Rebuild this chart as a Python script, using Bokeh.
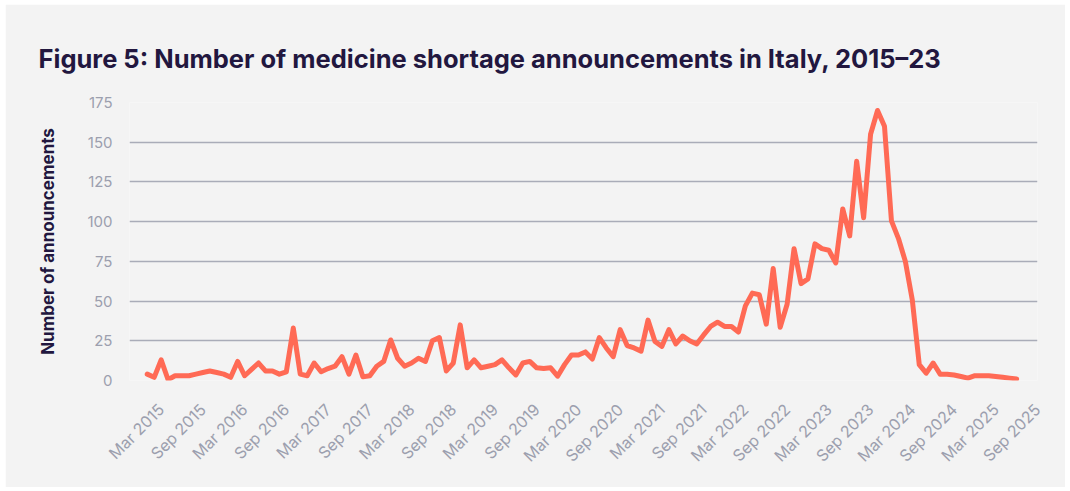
import math
from bokeh.plotting import figure
from bokeh.models import Range1d, FixedTicker, Title
from bokeh.embed import file_html
from bokeh.resources import INLINE

# ---- data (monthly announcements, starting Jan 2015) ----
start_year = 2015
start_month = 1
values = [
    4, 2, 13, 0.5, 3, 3, 3, 4, 5, 6,
    5, 4, 2, 12, 3, 7, 11, 6, 6, 4,
    5.5, 33, 4, 3, 11, 5.5, 7.5, 9, 15, 4,
    16, 2.3, 3, 9, 12, 25.5, 14, 9, 11, 14,
    12, 25, 27, 6, 11, 35, 8, 13, 8, 9,
    10, 13, 8, 3.5, 11, 12, 8, 7.5, 8, 2.7,
    10, 16, 16, 18, 13.5, 27, 20.5, 15, 32, 22,
    20.5, 18.5, 38, 24.6, 21.5, 32, 23, 28, 25, 23,
    28.7, 34, 36.7, 34, 34, 30.5, 47, 55, 54, 35.5,
    70.5, 33.5, 48, 83, 61, 64, 86, 83, 82, 74,
    108, 91, 138, 102.5, 155, 170, 160, 100.5, 89.5, 75,
    50.7, 10, 4.6, 11, 4, 4, 3.5, 2.5, 1.5, 3,
    3, 3, 2.5, 2, 1.5, 1,
]
x_labels = [
    "Mar 2015", "Sep 2015", "Mar 2016", "Sep 2016", "Mar 2017", "Sep 2017",
    "Mar 2018", "Sep 2018", "Mar 2019", "Sep 2019", "Mar 2020", "Sep 2020",
    "Mar 2021", "Sep 2021", "Mar 2022", "Sep 2022", "Mar 2023", "Sep 2023",
    "Mar 2024", "Sep 2024", "Mar 2025", "Sep 2025",
]
y_ticks = [0, 25, 50, 75, 100, 125, 150, 175]
title_text = "Figure 5: Number of medicine shortage announcements in Italy, 2015\u201323"
y_title = "Number of announcements"

MONTHS = ["Jan", "Feb", "Mar", "Apr", "May", "Jun", "Jul", "Aug", "Sep", "Oct", "Nov", "Dec"]


def month_index(label):
    m, y = label.split()
    return (int(y) - start_year) * 12 + MONTHS.index(m) - (start_month - 1)


x = list(range(len(values)))
tick_pos = [month_index(l) for l in x_labels]

BG = "#f3f3f3"
DARK = "#22173f"
GREY = "#9c9fae"
GRID = "#a9acb8"
LINE = "#ff6a55"
FONT = "Inter"

p = figure(
    width=1060, height=483, output_backend="svg", toolbar_location=None,
    margin=(4, 5, 4, 5),
    x_range=Range1d(-2.55, 128.0), y_range=Range1d(0, 175),
    min_border_left=124, min_border_right=28, min_border_top=98, min_border_bottom=107,
    background_fill_color=BG, border_fill_color=BG, outline_line_color=None,
    title=title_text,
)
p.title.text_font = FONT
p.title.text_font_size = "25.5px"
p.title.text_font_style = "bold"
p.title.text_color = DARK
p.title.align = "left"
p.title.offset = -91

# blank spacer between the title and the plot area
p.add_layout(Title(text=" ", text_font_size="20px", standoff=0), "above")

p.line(x, values, line_color=LINE, line_width=5, line_join="round", line_cap="round")

p.xgrid.grid_line_color = None
p.ygrid.grid_line_color = GRID
p.ygrid.grid_line_width = 1.5
p.ygrid.ticker = FixedTicker(ticks=y_ticks)

p.yaxis.ticker = FixedTicker(ticks=y_ticks)
p.xaxis.ticker = FixedTicker(ticks=tick_pos)
p.xaxis.major_label_overrides = {pos: lab for pos, lab in zip(tick_pos, x_labels)}
p.xaxis.major_label_orientation = math.pi / 4

for ax in (p.xaxis, p.yaxis):
    ax.axis_line_color = None
    ax.major_tick_line_color = None
    ax.minor_tick_line_color = None
    ax.major_tick_out = 0
    ax.major_tick_in = 0
    ax.major_label_text_font = FONT
    ax.major_label_text_color = GREY

p.yaxis.major_label_text_font_size = "15px"
p.xaxis.major_label_text_font_size = "16px"
p.yaxis.major_label_standoff = 17
p.xaxis.major_label_standoff = 26
p.yaxis.axis_label = y_title
p.yaxis.axis_label_text_font = FONT
p.yaxis.axis_label_text_font_size = "17px"
p.yaxis.axis_label_text_font_style = "bold"
p.yaxis.axis_label_text_color = DARK
p.yaxis.axis_label_standoff = 26

open("out.html", "w").write(file_html(p, INLINE))
